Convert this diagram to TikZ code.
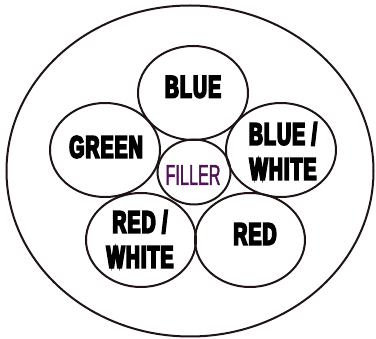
\documentclass[tikz,border=0pt]{standalone}
\usepackage{fontspec}
\usetikzlibrary{shapes.geometric}
\newfontfamily\labelfont{Liberation Sans}[UprightFont={* Bold},UprightFeatures={FakeBold=6},FakeStretch=0.62,LetterSpace=4]
\newfontfamily\fillerfont{Liberation Sans}[UprightFeatures={FakeBold=1.5},FakeStretch=0.56]
\definecolor{linecol}{RGB}{30,20,20}
\definecolor{fillercol}{RGB}{80,20,85}
\begin{document}
\begin{tikzpicture}[x=1pt,y=-1pt,
  ring/.style={ellipse, draw=linecol, line width=2pt, inner sep=0pt,
    minimum width=110pt, minimum height=94pt},
  lbl/.style={font=\labelfont\fontsize{31}{35}\selectfont, align=center,
    inner sep=0pt, text=black},
  fillerlbl/.style={font=\fillerfont\fontsize{29}{32}\selectfont,
    inner sep=0pt, text=fillercol}]
\useasboundingbox (0,0) rectangle (376,339);
\node[ellipse, draw=linecol, line width=2pt, inner sep=0pt,
  minimum width=367pt, minimum height=331pt] (outer) at (190,171) {};
\node[ring] (blue) at (193,93) {};
\node[ring] (green) at (105,150) {};
\node[ring] (bluewhite) at (281,150) {};
\node[ring] (redwhite) at (141,240) {};
\node[ring] (red) at (250,240) {};
\node[ellipse, draw=linecol, line width=2pt, inner sep=0pt,
  minimum width=73pt, minimum height=65pt] (filler) at (194,172) {};
\node[lbl] (tblue) at (193,87) {BLUE};
\node[lbl] (tgreen) at (106,147) {GREEN};
\node[lbl] (tbluewhite) at (283,151) {BLUE /\\WHITE};
\node[lbl] (tredwhite) at (140,239) {RED /\\WHITE};
\node[lbl] (tred) at (255,234) {RED};
\node[fillerlbl] (tfiller) at (193,175) {FILLER};
\end{tikzpicture}
\end{document}
